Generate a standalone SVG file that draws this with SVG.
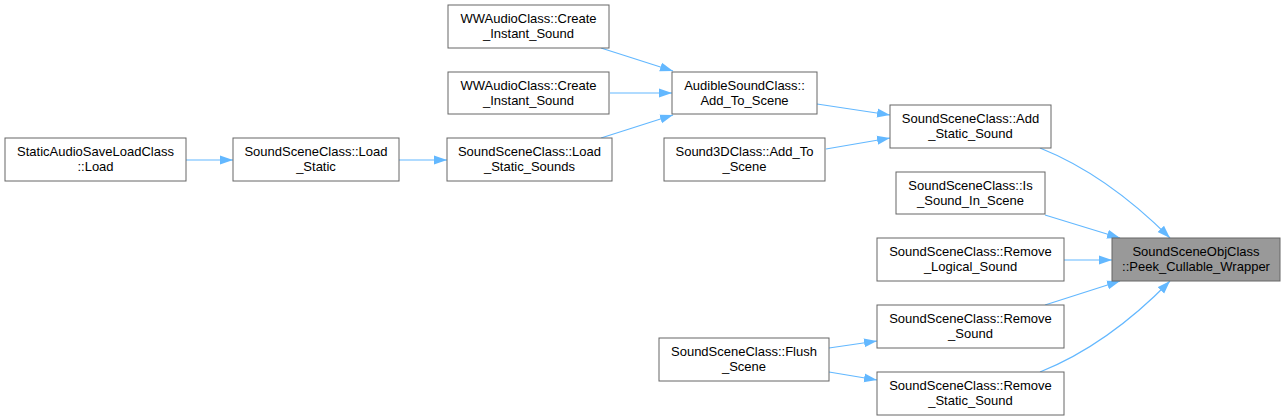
<svg xmlns="http://www.w3.org/2000/svg" width="1286" height="420" viewBox="0 0 1286 420">
<style>
.n rect{fill:#ffffff;stroke:#666666;stroke-width:1}
.n.hl rect{fill:#999999}
.n text{font-family:"Liberation Sans",Arial,sans-serif;font-size:13px;fill:#000000;text-anchor:middle}
.e path{fill:none;stroke:#63b8ff;stroke-width:1.2}
</style>
<defs>
<marker id="ah" markerUnits="userSpaceOnUse" markerWidth="14" markerHeight="10" refX="13" refY="5" orient="auto">
<path d="M0,0.5 L13,5 L0,9.5 z" fill="#63b8ff"/>
</marker>
</defs>
<rect x="0" y="0" width="1286" height="420" fill="#ffffff"/>
<g class="e">
<path d="M186,160 L233,160" marker-end="url(#ah)"/>
<path d="M399,160 L447,160" marker-end="url(#ah)"/>
<path d="M601,48 L673,71" marker-end="url(#ah)"/>
<path d="M610,93 L672,93" marker-end="url(#ah)"/>
<path d="M601,138 L673,115" marker-end="url(#ah)"/>
<path d="M817,104 L890,115" marker-end="url(#ah)"/>
<path d="M826,149 L890,138" marker-end="url(#ah)"/>
<path d="M1040,148 C1085,166 1130,198 1170,238" marker-end="url(#ah)"/>
<path d="M1045,215 L1120,238" marker-end="url(#ah)"/>
<path d="M1064,260 L1112,260" marker-end="url(#ah)"/>
<path d="M1045,305 L1120,281" marker-end="url(#ah)"/>
<path d="M1040,372 C1085,354 1130,322 1170,281" marker-end="url(#ah)"/>
<path d="M829,348 L877,341" marker-end="url(#ah)"/>
<path d="M829,372 L877,380" marker-end="url(#ah)"/>
</g>
<g id="n_load" class="n"><rect x="5" y="138" width="181" height="43"/><text x="95.5" y="156">StaticAudioSaveLoadClass</text><text x="95.5" y="171">::Load</text></g>
<g id="n_load_static" class="n"><rect x="233" y="138" width="166" height="43"/><text x="316" y="156">SoundSceneClass::Load</text><text x="316" y="171">_Static</text></g>
<g id="n_load_static_sounds" class="n"><rect x="447" y="138" width="165" height="43"/><text x="529.5" y="156">SoundSceneClass::Load</text><text x="529.5" y="171">_Static_Sounds</text></g>
<g id="n_create1" class="n"><rect x="448" y="5" width="161" height="43"/><text x="528.5" y="23">WWAudioClass::Create</text><text x="528.5" y="38">_Instant_Sound</text></g>
<g id="n_create2" class="n"><rect x="448" y="72" width="161" height="42"/><text x="528.5" y="90">WWAudioClass::Create</text><text x="528.5" y="105">_Instant_Sound</text></g>
<g id="n_audible" class="n"><rect x="672" y="72" width="145" height="42"/><text x="744.5" y="90">AudibleSoundClass::</text><text x="744.5" y="105">Add_To_Scene</text></g>
<g id="n_sound3d" class="n"><rect x="664" y="138" width="161" height="43"/><text x="744.5" y="156">Sound3DClass::Add_To</text><text x="744.5" y="171">_Scene</text></g>
<g id="n_add_static" class="n"><rect x="890" y="105" width="161" height="43"/><text x="970.5" y="123">SoundSceneClass::Add</text><text x="970.5" y="138">_Static_Sound</text></g>
<g id="n_is_sound" class="n"><rect x="896" y="172" width="149" height="42"/><text x="970.5" y="190">SoundSceneClass::Is</text><text x="970.5" y="205">_Sound_In_Scene</text></g>
<g id="n_remove_logical" class="n"><rect x="877" y="238" width="187" height="43"/><text x="970.5" y="256">SoundSceneClass::Remove</text><text x="970.5" y="271">_Logical_Sound</text></g>
<g id="n_remove_sound" class="n"><rect x="877" y="305" width="187" height="43"/><text x="970.5" y="323">SoundSceneClass::Remove</text><text x="970.5" y="338">_Sound</text></g>
<g id="n_remove_static" class="n"><rect x="877" y="372" width="187" height="43"/><text x="970.5" y="390">SoundSceneClass::Remove</text><text x="970.5" y="405">_Static_Sound</text></g>
<g id="n_flush" class="n"><rect x="659" y="338" width="170" height="43"/><text x="744" y="356">SoundSceneClass::Flush</text><text x="744" y="371">_Scene</text></g>
<g id="n_peek" class="n hl"><rect x="1112" y="238" width="168" height="43"/><text x="1196" y="256">SoundSceneObjClass</text><text x="1196" y="271">::Peek_Cullable_Wrapper</text></g>
</svg>
